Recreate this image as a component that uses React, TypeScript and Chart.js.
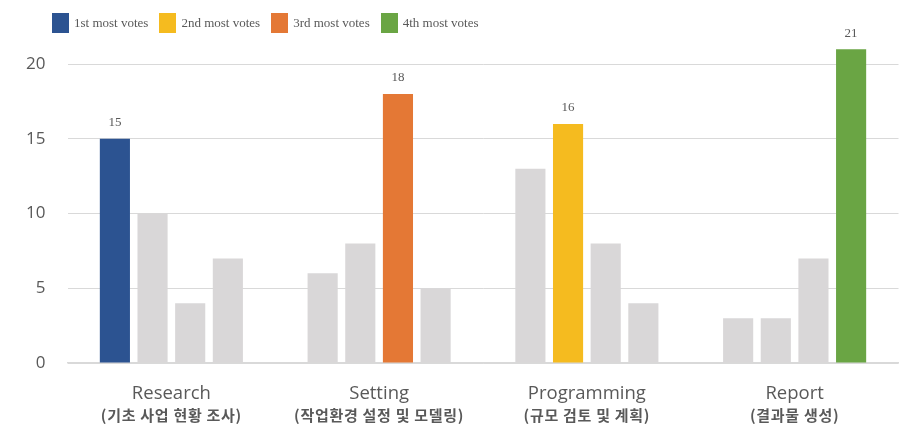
import React, { useEffect, useRef } from 'react';
import { Chart, registerables } from 'chart.js';

Chart.register(...registerables);

const categories = ['Research', 'Setting', 'Programming', 'Report'];
const subLabels = ['(기초 사업 현황 조사)', '(작업환경 설정 및 모델링)', '(규모 검토 및 계획)', '(결과물 생성)'];
const seriesNames = ['1st most votes', '2nd most votes', '3rd most votes', '4th most votes'];
const seriesColors = ['#2c5391', '#f5bb1f', '#e47835', '#6aa544'];
const grey = '#d9d7d8';

// votes for the 4 bars of each group (bar position 1..4)
const bar1 = [15, 6, 13, 3];
const bar2 = [10, 8, 16, 3];
const bar3 = [4, 18, 8, 7];
const bar4 = [7, 5, 4, 21];
const barValues = [bar1, bar2, bar3, bar4];

// which bar is coloured in each group
const highlight = [0, 2, 1, 3];

const yTicks = [0, 5, 10, 15, 20];

const textGrey = '#595959';

const valueLabels = {
  id: 'valueLabels',
  afterDatasetsDraw(chart: Chart) {
    const ctx = chart.ctx;
    ctx.save();
    ctx.font = '13px "Liberation Serif", serif';
    ctx.fillStyle = textGrey;
    ctx.textAlign = 'center';
    ctx.textBaseline = 'middle';
    chart.data.datasets.forEach((ds, i) => {
      const meta = chart.getDatasetMeta(i);
      categories.forEach((_, c) => {
        if (highlight[c] !== i) return;
        const bar = meta.data[c] as any;
        ctx.fillText(String(ds.data[c]), bar.x, bar.y - 16);
      });
    });
    ctx.restore();
  },
};

const subLabelPlugin = {
  id: 'subLabels',
  afterDraw(chart: Chart) {
    const ctx = chart.ctx as any;
    const x = chart.scales.x;
    ctx.save();
    ctx.font = 'bold 15px "Noto Sans CJK KR", sans-serif';
    ctx.letterSpacing = '0.7px';
    ctx.fillStyle = textGrey;
    ctx.textAlign = 'center';
    ctx.textBaseline = 'middle';
    subLabels.forEach((s, c) => {
      ctx.fillText(s, x.getPixelForValue(c), x.top + 52);
    });
    ctx.restore();
  },
};

const App: React.FC = () => {
  const chartRef = useRef<HTMLCanvasElement | null>(null);

  useEffect(() => {
    if (!chartRef.current) return;
    const ctx = chartRef.current.getContext('2d');
    if (!ctx) return;

    const chartInstance = new Chart(ctx, {
      type: 'bar',
      data: {
        labels: categories,
        datasets: barValues.map((vals, i) => ({
          label: seriesNames[i],
          data: vals,
          backgroundColor: categories.map((_, c) => (highlight[c] === i ? seriesColors[i] : grey)),
          borderWidth: 0,
          categoryPercentage: 0.725,
          barPercentage: 0.8,
        })),
      },
      options: {
        responsive: true,
        maintainAspectRatio: false,
        animation: false,
        layout: { padding: { top: 18, right: 9.5, left: 0, bottom: 0 } },
        plugins: {
          legend: { display: false },
          tooltip: { enabled: false },
        },
        scales: {
          x: {
            grid: { display: false },
            border: { display: true, color: '#d9d9d9', width: 1.5 },
            ticks: {
              padding: 12,
              color: textGrey,
              font: { family: '"Open Sans", sans-serif', size: 18.5 },
            },
            afterFit: (scale: any) => {
              scale.height = 63;
            },
          },
          y: {
            min: 0,
            max: 21.6,
            grid: { color: '#d9d9d9', lineWidth: 1, drawTicks: false },
            border: { display: false },
            ticks: {
              stepSize: 5,
              includeBounds: false,
              padding: 22,
              color: textGrey,
              font: { family: '"Open Sans", sans-serif', size: 17 },
            },
            afterBuildTicks: (scale: any) => {
              scale.ticks = yTicks.map((v) => ({ value: v }));
            },
            afterFit: (scale: any) => {
              scale.width = 59.5;
            },
          },
        },
      },
      plugins: [valueLabels, subLabelPlugin],
    });

    return () => chartInstance.destroy();
  }, []);

  return (
    <div style={{ position: 'relative', width: 900, height: 418 }}>
      <div
        style={{
          position: 'absolute',
          left: 44,
          top: 5,
          display: 'flex',
          alignItems: 'center',
          fontFamily: '"Liberation Serif", serif',
          fontSize: 13,
          color: textGrey,
          height: 20,
        }}
      >
        {seriesNames.map((name, i) => (
          <div key={name} style={{ display: 'flex', alignItems: 'center', marginRight: 11 }}>
            <span style={{ width: 17, height: 20, background: seriesColors[i], marginRight: 5 }} />
            <span>{name}</span>
          </div>
        ))}
      </div>
      <canvas ref={chartRef} />
    </div>
  );
};

export default App;
